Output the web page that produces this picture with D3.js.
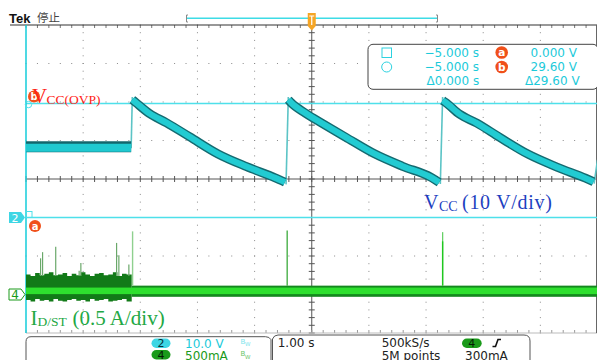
<!DOCTYPE html>
<html><head><meta charset="utf-8">
<script src="https://cdn.jsdelivr.net/npm/d3@7"></script>
<style>body{margin:0;background:#fff}svg{display:block}</style>
</head><body><svg id="c" width="597" height="360"></svg>
<script>
// ---------------- DATA ----------------
// VCC (channel 2, volts) vs time (s)
const vccFlatT = [-5.0, -3.16];
const vccFlatV = [18.4, 18.4];
const vccC1T = [-3.14, -3.09, -2.84, -2.54, -2.14, -1.64, -1.14, -0.64, -0.47];
const vccC1V = [30.6, 30.0, 27.0, 24.6, 21.0, 16.5, 13.2, 10.3, 9.2];
const vccC2T = [-0.41, -0.36, -0.11, 0.19, 0.59, 1.09, 1.59, 2.09, 2.23];
const vccC2V = [30.6, 29.8, 27.1, 24.4, 20.9, 16.6, 13.3, 10.4, 9.1];
const vccC3T = [2.29, 2.34, 2.59, 2.89, 3.29, 3.79, 4.29, 4.79, 4.93];
const vccC3V = [30.4, 29.9, 26.8, 24.5, 20.8, 16.4, 13.1, 10.2, 9.3];
const riseT0 = [-3.16, -0.45, 2.25, 4.94];
const riseT1 = [-3.14, -0.41, 2.29, 5.00];
const riseV0 = [18.0, 8.6, 8.7, 8.8];
const riseV1 = [31.3, 31.3, 31.3, 15.0];

// ID/ST (channel 4, amps)
const idJumpT = -3.15;
const idNoiseT = [-5.00,-4.92,-4.84,-4.76,-4.68,-4.60,-4.52,-4.44,-4.36,-4.28,-4.20,-4.12,
                  -4.04,-3.96,-3.88,-3.80,-3.72,-3.64,-3.56,-3.48,-3.40,-3.32,-3.24,-3.15];
const idNoiseHi = [0.26,0.24,0.28,0.25,0.27,0.29,0.25,0.26,0.28,0.24,0.27,0.25,
                   0.29,0.26,0.24,0.27,0.28,0.25,0.26,0.29,0.24,0.27,0.26,0.28];
const idNoiseLo = [-0.07,-0.09,-0.06,-0.08,-0.07,-0.09,-0.06,-0.08,-0.09,-0.07,-0.06,-0.08,
                   -0.07,-0.09,-0.06,-0.08,-0.07,-0.06,-0.09,-0.08,-0.07,-0.06,-0.09,-0.07];
const idBandHi = 0.115, idBandLo = -0.03;
const idCoreHi = 0.09, idCoreLo = 0.005;
const idSpikePreT = [-4.745, -4.71, -4.48, -4.07, -4.04, -3.415, -3.375, -3.2];
const idSpikePreA = [0.47, 0.55, 0.62, 0.31, 0.41, 0.67, 0.51, 0.39];
const idSpikeJumpT = [-3.135];
const idSpikeJumpA = [0.82];
const idSpikePostT = [-0.43, 2.29];
const idSpikePostA = [0.83, 0.81];

// Cursors
const cursorTime = -5.0;
const cursorA = 0.0;
const cursorB = 29.6;

// readouts
const readRows = [["−5.000 s","a","0.000 V"],["−5.000 s","b","29.60 V"],["Δ0.000 s","","Δ29.60 V"]];
const chScale = [["2","10.0 V"],["4","500mA"]];
const horiz = ["1.00 s","500kS/s","5M points","300mA"];

// ---------------- DRAW ----------------
const svg = d3.select('#c');
const X0 = 26, X1 = 597.5, Y0 = 25, Y1 = 333;
const x = d3.scaleLinear().domain([-5, 5]).range([X0, X1]);
const yDiv = d3.scaleLinear().domain([-4, 4]).range([Y1, Y0]);
const yV = d3.scaleLinear().domain([-30, 50]).range([Y1, Y0]);
const yI = d3.scaleLinear().domain([-0.5, 3.5]).range([Y1, Y0]);

const grid = svg.append('g');
// dotted graticule
for (let k = -4; k <= 4; k++) {
  if (k === 0) continue;
  for (let m = -20; m <= 20; m++) {
    grid.append('rect').attr('x', x(k) - 0.5).attr('y', yDiv(m / 5) - 0.5)
      .attr('width', 1).attr('height', 1).attr('fill', '#8a8a8a');
  }
}
for (let j = -3; j <= 3; j++) {
  if (j === 0) continue;
  for (let m = -25; m <= 25; m++) {
    grid.append('rect').attr('x', x(m / 5) - 0.5).attr('y', yDiv(j) - 0.5)
      .attr('width', 1).attr('height', 1).attr('fill', '#8a8a8a');
  }
}
// center axes
grid.append('line').attr('x1', x(0)).attr('x2', x(0)).attr('y1', Y0).attr('y2', Y1)
  .attr('stroke', '#555').attr('stroke-width', 1);
grid.append('line').attr('x1', X0).attr('x2', X1).attr('y1', yDiv(0)).attr('y2', yDiv(0))
  .attr('stroke', '#555').attr('stroke-width', 1);
for (let m = -20; m <= 20; m++) {
  grid.append('line').attr('x1', x(0) - 3).attr('x2', x(0) + 3)
    .attr('y1', yDiv(m / 5)).attr('y2', yDiv(m / 5)).attr('stroke', '#555');
}
for (let m = -25; m <= 25; m++) {
  grid.append('line').attr('x1', x(m / 5)).attr('x2', x(m / 5))
    .attr('y1', yDiv(0) - 3).attr('y2', yDiv(0) + 3).attr('stroke', '#555');
  grid.append('line').attr('x1', x(m / 5)).attr('x2', x(m / 5))
    .attr('y1', Y0).attr('y2', Y0 + 3).attr('stroke', '#777');
  grid.append('line').attr('x1', x(m / 5)).attr('x2', x(m / 5))
    .attr('y1', Y1 - 3).attr('y2', Y1).attr('stroke', '#999');
}
grid.append('line').attr('x1', 10).attr('x2', 597).attr('y1', Y0).attr('y2', Y0)
  .attr('stroke', '#333').attr('stroke-width', 1.2);
grid.append('line').attr('x1', X0).attr('x2', 597).attr('y1', Y1).attr('y2', Y1)
  .attr('stroke', '#bbb').attr('stroke-width', 1);
grid.append('line').attr('x1', 596.5).attr('x2', 596.5).attr('y1', Y0).attr('y2', Y1)
  .attr('stroke', '#666').attr('stroke-width', 1);

// cursors
const curC = '#4ee0ea';
svg.append('line').attr('x1', X0).attr('x2', 597).attr('y1', yV(cursorB)).attr('y2', yV(cursorB))
  .attr('stroke', curC).attr('stroke-width', 1.5);
svg.append('line').attr('x1', X0).attr('x2', 597).attr('y1', yV(cursorA)).attr('y2', yV(cursorA))
  .attr('stroke', curC).attr('stroke-width', 1.5);
svg.append('line').attr('x1', x(cursorTime)).attr('x2', x(cursorTime)).attr('y1', Y0).attr('y2', Y1)
  .attr('stroke', '#22d0dc').attr('stroke-width', 1.6);

// VCC waveform
const zip = (T, V) => T.map((t, i) => [t, V[i]]);
const lineV = d3.line().x(d => x(d[0])).y(d => yV(d[1])).curve(d3.curveMonotoneX);
const wv = svg.append('g');
riseT0.forEach((t, i) => {
  wv.append('line').attr('x1', x(t)).attr('x2', x(riseT1[i]))
    .attr('y1', yV(riseV0[i])).attr('y2', yV(riseV1[i]))
    .attr('stroke', '#5cc4c6').attr('stroke-width', 1.6);
});
wv.append('path').attr('d', lineV(zip(vccFlatT, vccFlatV))).attr('fill', 'none')
  .attr('stroke', '#13666c').attr('stroke-width', 11);
wv.append('path').attr('d', lineV(zip(vccFlatT, vccFlatV))).attr('fill', 'none')
  .attr('transform', 'translate(0,1.2)')
  .attr('stroke', '#20c9d0').attr('stroke-width', 8);
[[vccC1T, vccC1V], [vccC2T, vccC2V], [vccC3T, vccC3V]].forEach(([T, V]) => {
  const d = lineV(zip(T, V));
  wv.append('path').attr('d', d).attr('fill', 'none')
    .attr('stroke', '#146a70').attr('stroke-width', 9).attr('stroke-linecap', 'butt');
  wv.append('path').attr('d', d).attr('fill', 'none')
    .attr('stroke', '#22cbd2').attr('stroke-width', 6.2);
});

// Current waveform
const ci = svg.append('g');
const areaI = d3.area().x(d => x(d[0])).y0(d => yI(d[2])).y1(d => yI(d[1])).curve(d3.curveStepAfter);
ci.append('path').attr('d', areaI(idNoiseT.map((t, i) => [t, idNoiseHi[i], idNoiseLo[i]])))
  .attr('fill', '#127a18');
ci.append('rect').attr('x', x(idJumpT)).attr('width', 597 - x(idJumpT))
  .attr('y', yI(idBandHi)).attr('height', yI(idBandLo) - yI(idBandHi)).attr('fill', '#14881e');
ci.append('rect').attr('x', X0).attr('width', 597 - X0)
  .attr('y', yI(idCoreHi)).attr('height', yI(idCoreLo) - yI(idCoreHi)).attr('fill', '#2ee02e');
idSpikePreT.forEach((t, i) => {
  ci.append('line').attr('x1', x(t)).attr('x2', x(t)).attr('y1', yI(idNoiseHi[0] - 0.02)).attr('y2', yI(idSpikePreA[i]))
    .attr('stroke', '#6aa86a').attr('stroke-width', 1.2);
});
idSpikeJumpT.forEach((t, i) => {
  ci.append('line').attr('x1', x(t)).attr('x2', x(t)).attr('y1', yI(idBandHi)).attr('y2', yI(idSpikeJumpA[i]))
    .attr('stroke', '#8fd08f').attr('stroke-width', 1.4);
});
idSpikePostT.forEach((t, i) => {
  ci.append('line').attr('x1', x(t)).attr('x2', x(t)).attr('y1', yI(idBandHi)).attr('y2', yI(idSpikePostA[i]))
    .attr('stroke', i === 0 ? '#3caa3c' : '#66d066').attr('stroke-width', 1.3);
});
ci.append('line').attr('x1', x(idSpikePostT[1])).attr('x2', x(idSpikePostT[1]))
  .attr('y1', yI(idBandHi)).attr('y2', yI(idSpikePostA[1] - 0.12))
  .attr('stroke', '#1fc81f').attr('stroke-width', 1.4);

// ---------- markers ----------
const orange = '#f0501a';
function badge(cx, cy, letter) {
  svg.append('circle').attr('cx', cx).attr('cy', cy).attr('r', 6).attr('fill', orange);
  svg.append('text').attr('x', cx).attr('y', cy + 3.5).attr('text-anchor', 'middle')
    .attr('font-family', 'DejaVu Sans').attr('font-weight', 'bold').attr('font-size', 10)
    .attr('fill', '#fff').text(letter);
}
svg.append('circle').attr('cx', 28.5).attr('cy', yV(cursorB) + 1).attr('r', 3.2)
  .attr('fill', 'none').attr('stroke', curC).attr('stroke-width', 1);
svg.append('rect').attr('x', 26).attr('y', yV(cursorA) - 6).attr('width', 6).attr('height', 6)
  .attr('fill', 'none').attr('stroke', curC).attr('stroke-width', 1);
badge(34, yV(cursorB) - 7, 'b');
badge(35, yV(cursorA) + 8.5, 'a');

// channel tags
const tag = (yc) => `M9,${yc - 5.5} h12 l4,5.5 l-4,5.5 h-12 z`;
svg.append('path').attr('d', tag(yV(0))).attr('fill', '#3ed6e4');
svg.append('text').attr('x', 15).attr('y', yV(0) + 4).attr('text-anchor', 'middle')
  .attr('font-family', 'DejaVu Sans').attr('font-size', 11).attr('fill', '#fff').text('2');
svg.append('path').attr('d', tag(yI(0))).attr('fill', '#fff').attr('stroke', '#1a9a1a').attr('stroke-width', 1);
svg.append('text').attr('x', 15).attr('y', yI(0) + 4.5).attr('text-anchor', 'middle')
  .attr('font-family', 'DejaVu Sans').attr('font-size', 12).attr('fill', '#1a9a1a').text('4');

// top
svg.append('text').attr('x', 9).attr('y', 23).attr('font-family', 'Liberation Sans')
  .attr('font-weight', 'bold').attr('font-size', 13).attr('fill', '#111').text('Tek');
svg.append('text').attr('x', 37).attr('y', 22).attr('font-family', 'Noto Sans CJK SC')
  .attr('font-size', 11.5).attr('fill', '#444').text('停止');
svg.append('line').attr('x1', 187).attr('x2', 437).attr('y1', 18.3).attr('y2', 18.3)
  .attr('stroke', '#3edce6').attr('stroke-width', 1.5);
svg.append('path').attr('d', 'M188,15 h-1.5 v7 h1.5 M436,15 h1.5 v7 h-1.5').attr('fill', 'none')
  .attr('stroke', '#888').attr('stroke-width', 1);
svg.append('path').attr('d', `M${x(0) - 4},13 h8 v13 l-4,4.5 l-4,-4.5 z`).attr('fill', '#f5a524');
svg.append('path').attr('d', `M${x(0) - 2.5},16 h5 M${x(0)},16 v9`).attr('stroke', '#fff').attr('stroke-width', 1.2);

// cursor readout box
const cb = svg.append('g');
cb.append('rect').attr('x', 368).attr('y', 44.3).attr('width', 230).attr('height', 45)
  .attr('rx', 5).attr('fill', '#fff').attr('stroke', '#444').attr('stroke-width', 1);
cb.append('rect').attr('x', 382).attr('y', 48).attr('width', 9.5).attr('height', 9.5)
  .attr('fill', 'none').attr('stroke', '#2cd2e0').attr('stroke-width', 1);
cb.append('circle').attr('cx', 386.7).attr('cy', 67).attr('r', 5)
  .attr('fill', 'none').attr('stroke', '#2cd2e0').attr('stroke-width', 1);
const rowY = [56.7, 71, 85];
const tStyle = s => s.attr('font-family', 'DejaVu Sans').attr('font-size', 12).attr('fill', '#1ccada');
readRows.forEach((r, i) => {
  if (i < 2) {
    tStyle(cb.append('text').attr('x', 479).attr('y', rowY[i]).attr('text-anchor', 'end')).text(r[0]);
    tStyle(cb.append('text').attr('x', 577).attr('y', rowY[i]).attr('text-anchor', 'end')).text(r[2]);
  } else {
    tStyle(cb.append('text').attr('x', 426.5).attr('y', rowY[i])).text(r[0]);
    tStyle(cb.append('text').attr('x', 525).attr('y', rowY[i])).text(r[2]);
  }
});
cb.append('circle').attr('cx', 501.7).attr('cy', 52.5).attr('r', 6.3).attr('fill', orange);
cb.append('text').attr('x', 501.7).attr('y', 56.2).attr('text-anchor', 'middle').attr('font-family', 'DejaVu Sans')
  .attr('font-weight', 'bold').attr('font-size', 10.5).attr('fill', '#fff').text(readRows[0][1]);
cb.append('circle').attr('cx', 501.7).attr('cy', 67).attr('r', 6.3).attr('fill', orange);
cb.append('text').attr('x', 501.7).attr('y', 70.7).attr('text-anchor', 'middle').attr('font-family', 'DejaVu Sans')
  .attr('font-weight', 'bold').attr('font-size', 10.5).attr('fill', '#fff').text(readRows[1][1]);

// annotation labels
const serif = 'Liberation Serif';
const lab1 = svg.append('text').attr('font-family', serif).attr('fill', '#ff2418');
lab1.append('tspan').attr('x', 32).attr('y', 102.5).attr('font-size', 21).text('V');
lab1.append('tspan').attr('x', 46.5).attr('y', 104).attr('font-size', 13.5).text('CC(OVP)');

const lab2 = svg.append('text').attr('font-family', serif).attr('fill', '#1e3fbf');
lab2.append('tspan').attr('x', 424).attr('y', 208.5).attr('font-size', 20).text('V');
lab2.append('tspan').attr('x', 439).attr('y', 210.5).attr('font-size', 14).text('CC');
lab2.append('tspan').attr('x', 462).attr('y', 208.5).attr('font-size', 20).attr('textLength', 90).text('(10 V/div)');

const lab3 = svg.append('text').attr('font-family', serif).attr('fill', '#22a844');
lab3.append('tspan').attr('x', 30.5).attr('y', 324.5).attr('font-size', 21).text('I');
lab3.append('tspan').attr('x', 37.5).attr('y', 325.5).attr('font-size', 13.5).text('D/ST');
lab3.append('tspan').attr('x', 72.5).attr('y', 324.5).attr('font-size', 21).text('(0.5 A/div)');

// bottom panels
svg.append('path').attr('d', 'M26,362 V341.7 q0,-5 5,-5 H265.5 q4,0 5.5,3 V362').attr('fill', '#fff')
  .attr('stroke', '#555').attr('stroke-width', 1);
svg.append('path').attr('d', 'M272.5,362 V339 q1.5,-4 5.5,-4 H524 q6,0 6,6 V362').attr('fill', '#fff')
  .attr('stroke', '#555').attr('stroke-width', 1);
const pill = (x0, y0, w, fill, label, tcol) => {
  svg.append('rect').attr('x', x0).attr('y', y0).attr('width', w).attr('height', 9.5).attr('rx', 4.75).attr('fill', fill);
  svg.append('text').attr('x', x0 + w / 2).attr('y', y0 + 8.5).attr('text-anchor', 'middle')
    .attr('font-family', 'DejaVu Sans').attr('font-size', 11).attr('fill', tcol).text(label);
};
pill(151.5, 338.5, 19, '#3ed6e4', chScale[0][0], '#0a3038');
pill(151.5, 350, 19, '#1a9a1a', chScale[1][0], '#061a06');
const bt = (xx, yy, txt, col) => svg.append('text').attr('x', xx).attr('y', yy)
  .attr('font-family', 'DejaVu Sans').attr('font-size', 12).attr('fill', col).text(txt);
bt(185, 347.7, chScale[0][1], '#1ccada');
bt(185, 360, chScale[1][1], '#1a9a1a');
[[347.7, '#7ee4ec'], [360, '#6ac46a']].forEach(([yy, col]) => {
  const t = svg.append('text').attr('font-family', 'DejaVu Sans').attr('fill', col);
  t.append('tspan').attr('x', 240.5).attr('y', yy - 4).attr('font-size', 7).text('B');
  t.append('tspan').attr('x', 245).attr('y', yy - 1.5).attr('font-size', 5.5).text('W');
});
bt(277.7, 346.7, horiz[0], '#222');
bt(381.7, 346.7, horiz[1], '#222');
bt(381.7, 359.8, horiz[2], '#222');
bt(465, 359.8, horiz[3], '#222');
pill(462, 338.5, 19.7, '#1a9a1a', '4', '#061a06');
svg.append('path').attr('d', 'M492.5,346.5 h3 l2.5,-7 h3').attr('fill', 'none')
  .attr('stroke', '#111').attr('stroke-width', 1.6);
</script></body></html>
